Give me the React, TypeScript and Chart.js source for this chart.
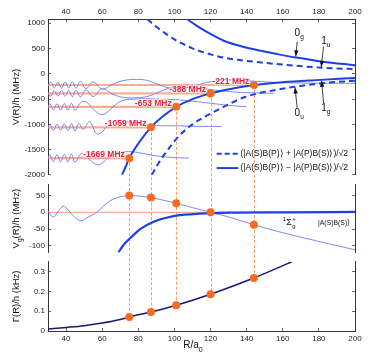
import React, { useEffect, useRef } from 'react';
import { Chart, registerables } from 'chart.js';

Chart.register(...registerables);

const FONT = '"Liberation Sans", Arial, Helvetica, sans-serif';

// ---- tick values ----
const xTickValues = [40, 60, 80, 100, 120, 140, 160, 180, 200];
const vTickValues = [1000, 500, 0, -500, -1000, -1500, -2000];
const vgTickValues = [50, 0, -50, -100];
const gammaTickValues = [0, 0.1, 0.2, 0.3];

// ---- bound levels ----
const levelR = [75, 87, 101, 120, 144];
const levelE = [-1669, -1059, -653, -388, -221];
const levelText = ['-1669 MHz', '-1059 MHz', '-653 MHz', '-388 MHz', '-221 MHz'];
const levelVg = [50, 44, 27, 0, -37];
const levelGamma = [0.071, 0.096, 0.13, 0.186, 0.268];

// ---- potential curves (top panel) ----
const upperSolidR = [107, 112, 117, 122, 128, 137, 147, 157, 167, 182, 200];
const upperSolidV = [1080, 960, 850, 750, 645, 545, 460, 390, 325, 240, 170];
const upperDashR = [85, 90, 95, 100, 110, 121, 128, 137, 147, 167, 182, 200];
const upperDashV = [1080, 930, 800, 680, 505, 375, 315, 270, 228, 160, 120, 92];
const lowerSolidR = [71, 73, 75, 80, 87, 94, 101, 110, 120, 128, 144, 160, 181, 200];
const lowerSolidV = [-2000, -1840, -1669, -1380, -1059, -830, -653, -500, -388, -320, -221, -165, -120, -82];
const lowerDashR = [87.5, 91, 95, 102, 110, 119, 128, 139, 156, 167, 182, 200];
const lowerDashV = [-2000, -1780, -1570, -1250, -1000, -810, -640, -460, -320, -255, -186, -135];

// ---- vibrational wavefunctions (top panel) ----
const wave1R = [30, 31, 33, 35, 37, 39, 41, 43, 45, 48.5, 52, 57, 60, 63, 67, 72, 77, 83, 90, 98, 108];
const wave1V = [-1669, -1599, -1739, -1599, -1739, -1594, -1744, -1589, -1749, -1579, -1669, -1799, -1769, -1669, -1579, -1544, -1544, -1579, -1624, -1654, -1669];
const wave2R = [30, 31, 33, 35, 37, 39, 41, 43, 45, 47, 49.5, 53, 57, 60, 63, 67, 71, 76, 82, 90, 100, 112, 126];
const wave2V = [-1059, -999, -1119, -999, -1119, -994, -1124, -989, -1129, -984, -1099, -949, -1189, -1149, -1029, -939, -929, -959, -999, -1024, -1029, -1039, -1044];
const wave3R = [30, 31, 33, 35, 37, 39, 41, 43, 45, 48, 51, 55, 59, 62, 66, 71, 77, 84, 92, 101, 110, 120, 130, 140];
const wave3V = [-653, -593, -713, -593, -718, -588, -718, -583, -723, -573, -553, -693, -803, -783, -653, -533, -503, -493, -503, -513, -543, -583, -623, -653];
const wave4R = [30, 31.5, 33.5, 35.5, 37.5, 39.5, 41.5, 43.5, 45.5, 48, 51, 55, 60, 66, 72, 79, 85, 91, 97, 103, 110, 118, 126, 135, 145, 155];
const wave4V = [-388, -443, -333, -443, -328, -448, -328, -453, -323, -458, -318, -448, -298, -408, -468, -473, -448, -368, -288, -263, -273, -303, -338, -363, -378, -388];
const wave5R = [30, 31.5, 33.5, 35.5, 37.5, 39.5, 41.5, 43.5, 45.5, 48, 51, 55, 60, 66, 72, 79, 85, 91, 97, 103, 110, 118, 127, 136, 146, 160, 180, 200];
const wave5V = [-221, -166, -276, -166, -281, -161, -281, -156, -286, -151, -291, -161, -301, -201, -131, -111, -131, -211, -281, -301, -251, -171, -126, -126, -151, -176, -186, -186];

// ---- middle panel ----
const zeroLineR = [30, 128];
const zeroLineV = [0, 0];
const vgThinR = [30, 33, 35.5, 38.5, 41, 43.5, 48, 52, 57, 64, 70, 75, 81, 87, 94, 101, 110, 120, 130, 144, 160, 180, 200];
const vgThinV = [3, -14, 2, 18, 8, -8, -25, -15, 0, 33, 46, 50, 48, 44, 36, 27, 14, 0, -14, -37, -61, -87, -112];
const vgThickR = [69, 72, 75.6, 81, 88.5, 95, 101, 114, 130, 160, 200];
const vgThickV = [-120, -96, -77, -50, -28, -17, -10, -4, -1, 0, 1];

// ---- bottom panel ----
const gammaR = [30, 40, 50, 60, 70, 75, 87, 101, 120, 144, 155, 165];
const gammaV = [0.01, 0.018, 0.027, 0.04, 0.058, 0.071, 0.096, 0.13, 0.186, 0.268, 0.31, 0.35];

const BLUE = '#1f3fe6';
const THIN = '#6a7cf2';
const ORANGE = '#fa6a1e';

const mk = (xs: number[], ys: number[]) => xs.map((x, i) => ({ x, y: ys[i] }));

type Part = { t: string; size: number; dy?: number; bold?: boolean };
function setFont(ctx: CanvasRenderingContext2D, p: Part) {
  ctx.font = `${p.bold ? 'bold ' : ''}${p.size}px ${FONT}`;
}
function drawRich(ctx: CanvasRenderingContext2D, parts: Part[], x: number, y: number, align: string) {
  let w = 0;
  for (const p of parts) { setFont(ctx, p); w += ctx.measureText(p.t).width; }
  let cx = align === 'left' ? x : align === 'center' ? x - w / 2 : x - w;
  ctx.textAlign = 'left';
  for (const p of parts) {
    setFont(ctx, p);
    ctx.fillText(p.t, cx, y + (p.dy || 0));
    cx += ctx.measureText(p.t).width;
  }
}
function arrow(ctx: CanvasRenderingContext2D, x0: number, y0: number, x1: number, y1: number) {
  ctx.beginPath(); ctx.moveTo(x0, y0); ctx.lineTo(x1, y1); ctx.stroke();
  const a = Math.atan2(y1 - y0, x1 - x0); const L = 6, W = 2.2;
  ctx.beginPath();
  ctx.moveTo(x1, y1);
  ctx.lineTo(x1 - L * Math.cos(a) + W * Math.sin(a), y1 - L * Math.sin(a) - W * Math.cos(a));
  ctx.lineTo(x1 - L * Math.cos(a) - W * Math.sin(a), y1 - L * Math.sin(a) + W * Math.cos(a));
  ctx.closePath(); ctx.fill();
}

const stateNotes = [
  { main: '0', sub: 'g', tx: 168.2, ty: 800, ax0: 168, ay0: 640, ax1: 167.2, ay1: 345 },
  { main: '1', sub: 'u', tx: 183, ty: 640, ax0: 182.6, ay0: 540, ax1: 181.3, ay1: 135 },
  { main: '0', sub: 'u', tx: 168.2, ty: -790, ax0: 168, ay0: -680, ax1: 166.8, ay1: -272 },
  { main: '1', sub: 'g', tx: 183, ty: -690, ax0: 182.6, ay0: -580, ax1: 181.5, ay1: -138 },
];

const overlay = {
  id: 'overlay',
  beforeDatasetsDraw(chart: any) {
    const { ctx, scales } = chart;
    const x = scales.x, yT = scales.yTop, yB = scales.yBot;
    ctx.save();
    ctx.strokeStyle = '#fb9a6a';
    ctx.lineWidth = 1;
    ctx.setLineDash([3, 2]);
    levelR.forEach((r, i) => {
      const px = Math.round(x.getPixelForValue(r)) + 0.5;
      ctx.beginPath();
      ctx.moveTo(px, yT.getPixelForValue(levelE[i]));
      ctx.lineTo(px, yB.getPixelForValue(levelGamma[i]));
      ctx.stroke();
    });
    ctx.restore();
  },
  afterDatasetsDraw(chart: any) {
    const { ctx, scales } = chart;
    const x = scales.x, yT = scales.yTop, yM = scales.yMid;
    ctx.save();
    // level labels
    ctx.textBaseline = 'middle';
    levelR.forEach((r, i) => {
      const px = x.getPixelForValue(r) - 4.5;
      const py = yT.getPixelForValue(levelE[i]) - 3.5;
      ctx.font = `bold 8.5px ${FONT}`;
      ctx.textAlign = 'right';
      ctx.lineWidth = 2;
      ctx.strokeStyle = 'rgba(255,255,255,0.6)';
      ctx.strokeText(levelText[i], px, py);
      ctx.fillStyle = '#ee1d3a';
      ctx.fillText(levelText[i], px, py);
    });
    // state annotations
    ctx.fillStyle = '#111';
    ctx.strokeStyle = '#111';
    ctx.lineWidth = 0.8;
    stateNotes.forEach((n) => {
      const tx = x.getPixelForValue(n.tx), ty = yT.getPixelForValue(n.ty);
      ctx.textBaseline = 'middle';
      drawRich(ctx, [{ t: n.main, size: 10 }, { t: n.sub, size: 6.5, dy: 3.5 }], tx - 3, ty, 'left');
      arrow(ctx, x.getPixelForValue(n.ax0), yT.getPixelForValue(n.ay0), x.getPixelForValue(n.ax1), yT.getPixelForValue(n.ay1));
    });
    // legend
    const lx0 = x.getPixelForValue(123.4), lx1 = x.getPixelForValue(135.4), ltx = x.getPixelForValue(136.6);
    const ly1 = yT.getPixelForValue(-1583), ly2 = yT.getPixelForValue(-1866);
    ctx.strokeStyle = BLUE;
    ctx.lineWidth = 2;
    ctx.setLineDash([5, 3]);
    ctx.beginPath(); ctx.moveTo(lx0, ly1); ctx.lineTo(lx1, ly1); ctx.stroke();
    ctx.setLineDash([]);
    ctx.beginPath(); ctx.moveTo(lx0, ly2); ctx.lineTo(lx1, ly2); ctx.stroke();
    ctx.fillStyle = '#111';
    ctx.font = `8.5px ${FONT}`;
    ctx.textAlign = 'left';
    ctx.textBaseline = 'middle';
    ctx.fillText('(|A(S)B(P)\u27E9 + |A(P)B(S)\u27E9)/\u221A2', ltx, ly1, 112);
    ctx.fillText('(|A(S)B(P)\u27E9 \u2212 |A(P)B(S)\u27E9)/\u221A2', ltx, ly2, 112);
    // middle panel label
    const mx = x.getPixelForValue(160), my = yM.getPixelForValue(-31);
    ctx.font = `6px ${FONT}`;
    ctx.fillText('1', mx, my - 3);
    ctx.font = `9px ${FONT}`;
    ctx.fillText('\u03A3', mx + 3.5, my);
    const sx = mx + 3.5 + ctx.measureText('\u03A3').width + 0.5;
    ctx.font = `6px ${FONT}`;
    ctx.fillText('+', sx, my - 3.5);
    ctx.fillText('g', sx, my + 3.5);
    ctx.font = `7.5px ${FONT}`;
    ctx.fillText('|A(S)B(S)\u27E9', x.getPixelForValue(179.5), my, 32);
    ctx.restore();
  },
  afterDraw(chart: any) {
    const { ctx, scales } = chart;
    const yT = scales.yTop, yM = scales.yMid, yB = scales.yBot;
    ctx.save();
    ctx.fillStyle = '#111';
    ctx.textBaseline = 'middle';
    const titles: [any, Part[]][] = [
      [yT, [{ t: 'V(R)/h (MHz)', size: 9.5 }]],
      [yM, [{ t: 'V', size: 9.5 }, { t: 'g', size: 6.5, dy: 4 }, { t: '(R)/h (MHz)', size: 9.5 }]],
      [yB, [{ t: '\u0393(R)/h (kHz)', size: 9.5 }]],
    ];
    titles.forEach(([s, parts]) => {
      ctx.save();
      ctx.translate(16, (s.top + s.bottom) / 2);
      ctx.rotate(-Math.PI / 2);
      drawRich(ctx, parts, 0, 0, 'center');
      ctx.restore();
    });
    drawRich(ctx, [{ t: 'R/a', size: 10 }, { t: '0', size: 7, dy: 5 }], 193, 345, 'center');
    ctx.restore();
  },
};

const plainNum = (v: any) => String(v);

function yScale(min: number, max: number, ticks: number[], position: string, stackWeight: number, weight: number, labels: boolean, stack: string, width: number) {
  return {
    type: 'linear',
    position,
    stack,
    stackWeight,
    weight,
    min,
    max,
    afterBuildTicks: (s: any) => { s.ticks = ticks.map((v) => ({ value: v })); },
    afterFit: (s: any) => { s.width = width; },
    ticks: { display: labels, padding: 6, color: '#222', font: { family: FONT, size: 8 }, callback: plainNum },
    grid: { display: true, drawOnChartArea: false, drawTicks: true, tickLength: -3, color: '#444', lineWidth: 0.8 },
    border: { display: true, color: '#333', width: 1 },
  };
}
function spacer(position: string, stack: string, stackWeight: number, weight: number, width: number) {
  return {
    type: 'linear', position, stack, stackWeight, weight, min: 0, max: 1,
    afterFit: (s: any) => { s.width = width; },
    ticks: { display: false }, grid: { display: false }, border: { display: false },
  };
}
function xScale(position: string, height: number, padding: number) {
  return {
    type: 'linear',
    position,
    min: 30,
    max: 200,
    afterBuildTicks: (s: any) => { s.ticks = xTickValues.map((v) => ({ value: v })); },
    afterFit: (s: any) => { s.height = height; },
    ticks: { padding, color: '#222', font: { family: FONT, size: 8 }, maxRotation: 0, callback: plainNum },
    grid: { display: true, drawOnChartArea: false, drawTicks: true, tickLength: -3, color: '#444', lineWidth: 0.8 },
    border: { display: true, color: '#333', width: 1 },
  };
}

function lineDs(xs: number[], ys: number[], yAxisID: string, color: string, width: number, order: number, extra: any = {}) {
  return {
    data: mk(xs, ys), xAxisID: 'x', yAxisID, showLine: true, borderColor: color, borderWidth: width,
    pointRadius: 0, pointHoverRadius: 0, fill: false, tension: 0.4, order, ...extra,
  };
}
function dotDs(xs: number[], ys: number[], yAxisID: string) {
  return {
    data: mk(xs, ys), xAxisID: 'x', yAxisID, showLine: false, pointRadius: 4, pointHoverRadius: 4,
    backgroundColor: ORANGE, borderColor: ORANGE, borderWidth: 0, order: 0,
  };
}

export default function App() {
  const ref = useRef<HTMLCanvasElement | null>(null);
  useEffect(() => {
    if (!ref.current) return;
    const energyLines = levelR.map((r, i) =>
      lineDs([30, r], [levelE[i], levelE[i]], 'yTop', 'rgba(249,140,95,0.7)', 2.2, 20, { tension: 0 }));
    const waves = [
      [wave1R, wave1V], [wave2R, wave2V], [wave3R, wave3V], [wave4R, wave4V], [wave5R, wave5V],
    ].map(([r, v]) => lineDs(r, v, 'yTop', THIN, 0.9, 15));
    const chart = new Chart(ref.current, {
      type: 'scatter',
      data: {
        datasets: [
          ...energyLines,
          ...waves,
          lineDs(upperSolidR, upperSolidV, 'yTop', BLUE, 2, 10, { cubicInterpolationMode: 'monotone' }),
          lineDs(upperDashR, upperDashV, 'yTop', BLUE, 2, 10, { cubicInterpolationMode: 'monotone', borderDash: [6, 4] }),
          lineDs(lowerSolidR, lowerSolidV, 'yTop', BLUE, 2, 10, { cubicInterpolationMode: 'monotone' }),
          lineDs(lowerDashR, lowerDashV, 'yTop', BLUE, 2, 10, { cubicInterpolationMode: 'monotone', borderDash: [6, 4] }),
          dotDs(levelR, levelE, 'yTop'),
          lineDs(zeroLineR, zeroLineV, 'yMid', '#fa9a70', 1, 20, { tension: 0 }),
          lineDs(vgThinR, vgThinV, 'yMid', THIN, 0.9, 15),
          lineDs(vgThickR, vgThickV, 'yMid', BLUE, 2.2, 10, { cubicInterpolationMode: 'monotone' }),
          dotDs(levelR, levelVg, 'yMid'),
          lineDs(gammaR, gammaV, 'yBot', '#16197a', 1.5, 10, { cubicInterpolationMode: 'monotone' }),
          dotDs(levelR, levelGamma, 'yBot'),
        ] as any,
      },
      options: {
        animation: false,
        responsive: true,
        maintainAspectRatio: false,
        layout: { padding: 0 },
        plugins: { legend: { display: false }, tooltip: { enabled: false } },
        events: [],
        scales: {
          x: xScale('bottom', 31, 6),
          xTop: xScale('top', 19, 5),
          yTop: yScale(-2000, 1085, vTickValues, 'left', 156, 5, true, 'L', 48),
          sL1: spacer('left', 'L', 10, 4, 48),
          yMid: yScale(-120, 82, vgTickValues, 'left', 67.7, 3, true, 'L', 48),
          sL2: spacer('left', 'L', 9.3, 2, 48),
          yBot: yScale(0, 0.35, gammaTickValues, 'left', 69.3, 1, true, 'L', 48),
          rTop: yScale(-2000, 1085, vTickValues, 'right', 156, 1, false, 'R', 18),
          sR1: spacer('right', 'R', 10, 2, 18),
          rMid: yScale(-120, 82, vgTickValues, 'right', 67.7, 3, false, 'R', 18),
          sR2: spacer('right', 'R', 9.3, 4, 18),
          rBot: yScale(0, 0.35, gammaTickValues, 'right', 69.3, 5, false, 'R', 18),
        } as any,
      },
      plugins: [overlay],
    });
    return () => chart.destroy();
  }, []);
  return (
    <div style={{ position: 'fixed', left: 0, top: 0, width: 373, height: 362, background: '#fff' }}>
      <canvas ref={ref} />
    </div>
  );
}
